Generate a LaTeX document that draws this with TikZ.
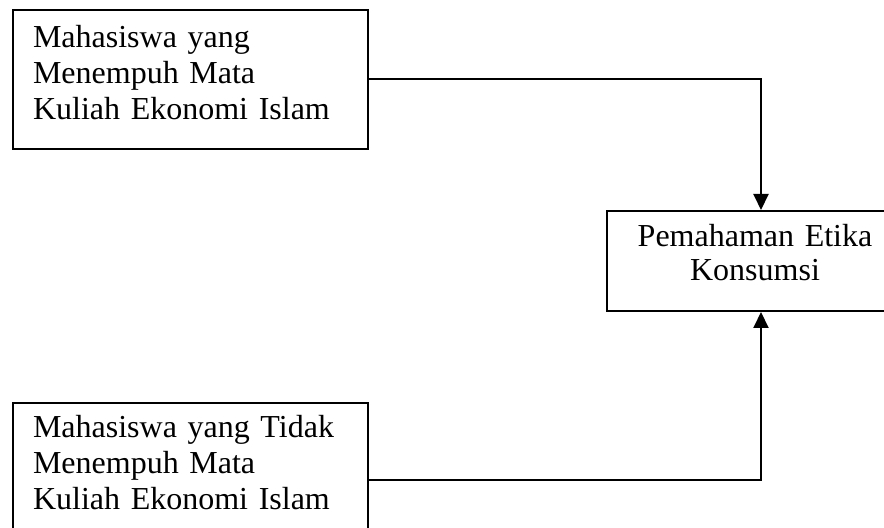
\documentclass[tikz,border=0pt]{standalone}
\usepackage{fontspec}
\setmainfont{Liberation Serif}
\usepackage{tikz}
\usetikzlibrary{positioning}
\usetikzlibrary{arrows.meta}

% penyangga bawah untuk menggeser teks ke atas
\newcommand{\ganjal}[1]{\rule[-#1]{0pt}{0pt}}

\tikzset{
  grupbox/.style={draw, line width=1pt, text width=157.5pt, align=left,
    inner xsep=10pt, minimum height=69.5pt, font=\fontsize{16}{18}\selectfont},
  hasilbox/.style={draw, line width=1pt, text width=140pt, align=center,
    inner xsep=4pt, minimum height=50pt, font=\fontsize{16}{17}\selectfont},
  panah/.style={line width=1pt, -{Triangle[width=7.5pt,length=8pt]}}
}

\begin{document}
\begin{tikzpicture}[x=0.5pt, y=-0.5pt]
    \useasboundingbox (0,0) rectangle (884,528);
    \node[grupbox, anchor=north west](ikut) at (12,9) {Mahasiswa yang\\ Menempuh Mata\\ Kuliah Ekonomi Islam\ganjal{7.5pt}};
    \node[grupbox] (tidak) [below = 126pt of ikut] {Mahasiswa yang Tidak\\ Menempuh Mata\\ Kuliah Ekonomi Islam\ganjal{10.5pt}};
    \node[hasilbox] (etika) [below right = 30pt and 118.5pt of ikut] {Pemahaman Etika\\ Konsumsi\ganjal{8.5pt}};

    % garis penghubung
    \draw[panah] (ikut.east) -| ([xshift=3pt]etika.north);
    \draw[panah] ([yshift=-3.75pt]tidak.east) -| ([xshift=3pt]etika.south);
\end{tikzpicture}
\end{document}
